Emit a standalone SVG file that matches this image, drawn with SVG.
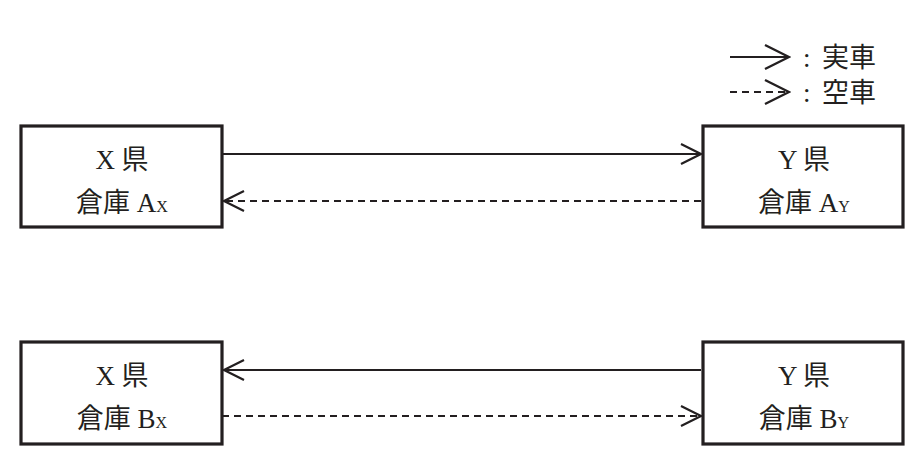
<svg xmlns="http://www.w3.org/2000/svg" width="924" height="467" viewBox="0 0 924 467">
<defs>
<marker id="ah" viewBox="0 0 24 24" markerWidth="24" markerHeight="24" refX="22" refY="12" orient="auto" markerUnits="userSpaceOnUse">
<path d="M2,2 L22,12 L2,22" fill="none" stroke="#231f20" stroke-width="2.2"/>
</marker>
<marker id="ahl" viewBox="0 0 28 28" markerWidth="28" markerHeight="28" refX="26" refY="14" orient="auto" markerUnits="userSpaceOnUse">
<path d="M2,2 L26,14 L2,26" fill="none" stroke="#231f20" stroke-width="2.4"/>
</marker>
</defs>
<style>
.box{fill:#fff;stroke:#231f20;stroke-width:3.2}
.t{font-family:"Liberation Serif","Noto Sans CJK JP",serif;font-size:27px;fill:#231f20;text-anchor:middle}
.sub{font-size:16px}
.solid{stroke:#231f20;stroke-width:2;fill:none}
.dash{stroke:#231f20;stroke-width:2;fill:none;stroke-dasharray:7 5}
.lg{font-family:"Liberation Serif","Noto Sans CJK JP",serif;font-size:27px;fill:#231f20}
</style>
<rect width="924" height="467" fill="#fff"/>
<g id="legend">
<line class="solid" x1="730" y1="57" x2="789" y2="57" stroke-width="2.4" marker-end="url(#ahl)"/>
<text class="lg" x="803" y="67">:</text>
<text class="lg" x="822" y="67">実車</text>
<line class="dash" x1="730" y1="92" x2="789" y2="92" stroke-width="2.4" marker-end="url(#ahl)"/>
<text class="lg" x="803" y="102">:</text>
<text class="lg" x="822" y="102">空車</text>
</g>
<g id="connectors">
<line class="solid" x1="222" y1="154" x2="701" y2="154" marker-end="url(#ah)"/>
<line class="dash" x1="701" y1="201" x2="224" y2="201" marker-end="url(#ah)"/>
<line class="solid" x1="701" y1="370" x2="224" y2="370" marker-end="url(#ah)"/>
<line class="dash" x1="222" y1="416" x2="701" y2="416" marker-end="url(#ah)"/>
</g>
<g id="node-ax">
<rect class="box" x="21" y="126" width="201" height="101"/>
<text class="t" x="122" y="169">X 県</text>
<text class="t" x="122" y="212">倉庫 A<tspan class="sub">X</tspan></text>
</g>
<g id="node-ay">
<rect class="box" x="703" y="126" width="200" height="101"/>
<text class="t" x="804" y="169">Y 県</text>
<text class="t" x="804" y="212">倉庫 A<tspan class="sub">Y</tspan></text>
</g>
<g id="node-bx">
<rect class="box" x="21" y="342" width="201" height="102"/>
<text class="t" x="122" y="385">X 県</text>
<text class="t" x="122" y="428">倉庫 B<tspan class="sub">X</tspan></text>
</g>
<g id="node-by">
<rect class="box" x="703" y="342" width="200" height="102"/>
<text class="t" x="804" y="385">Y 県</text>
<text class="t" x="804" y="428">倉庫 B<tspan class="sub">Y</tspan></text>
</g>
</svg>
